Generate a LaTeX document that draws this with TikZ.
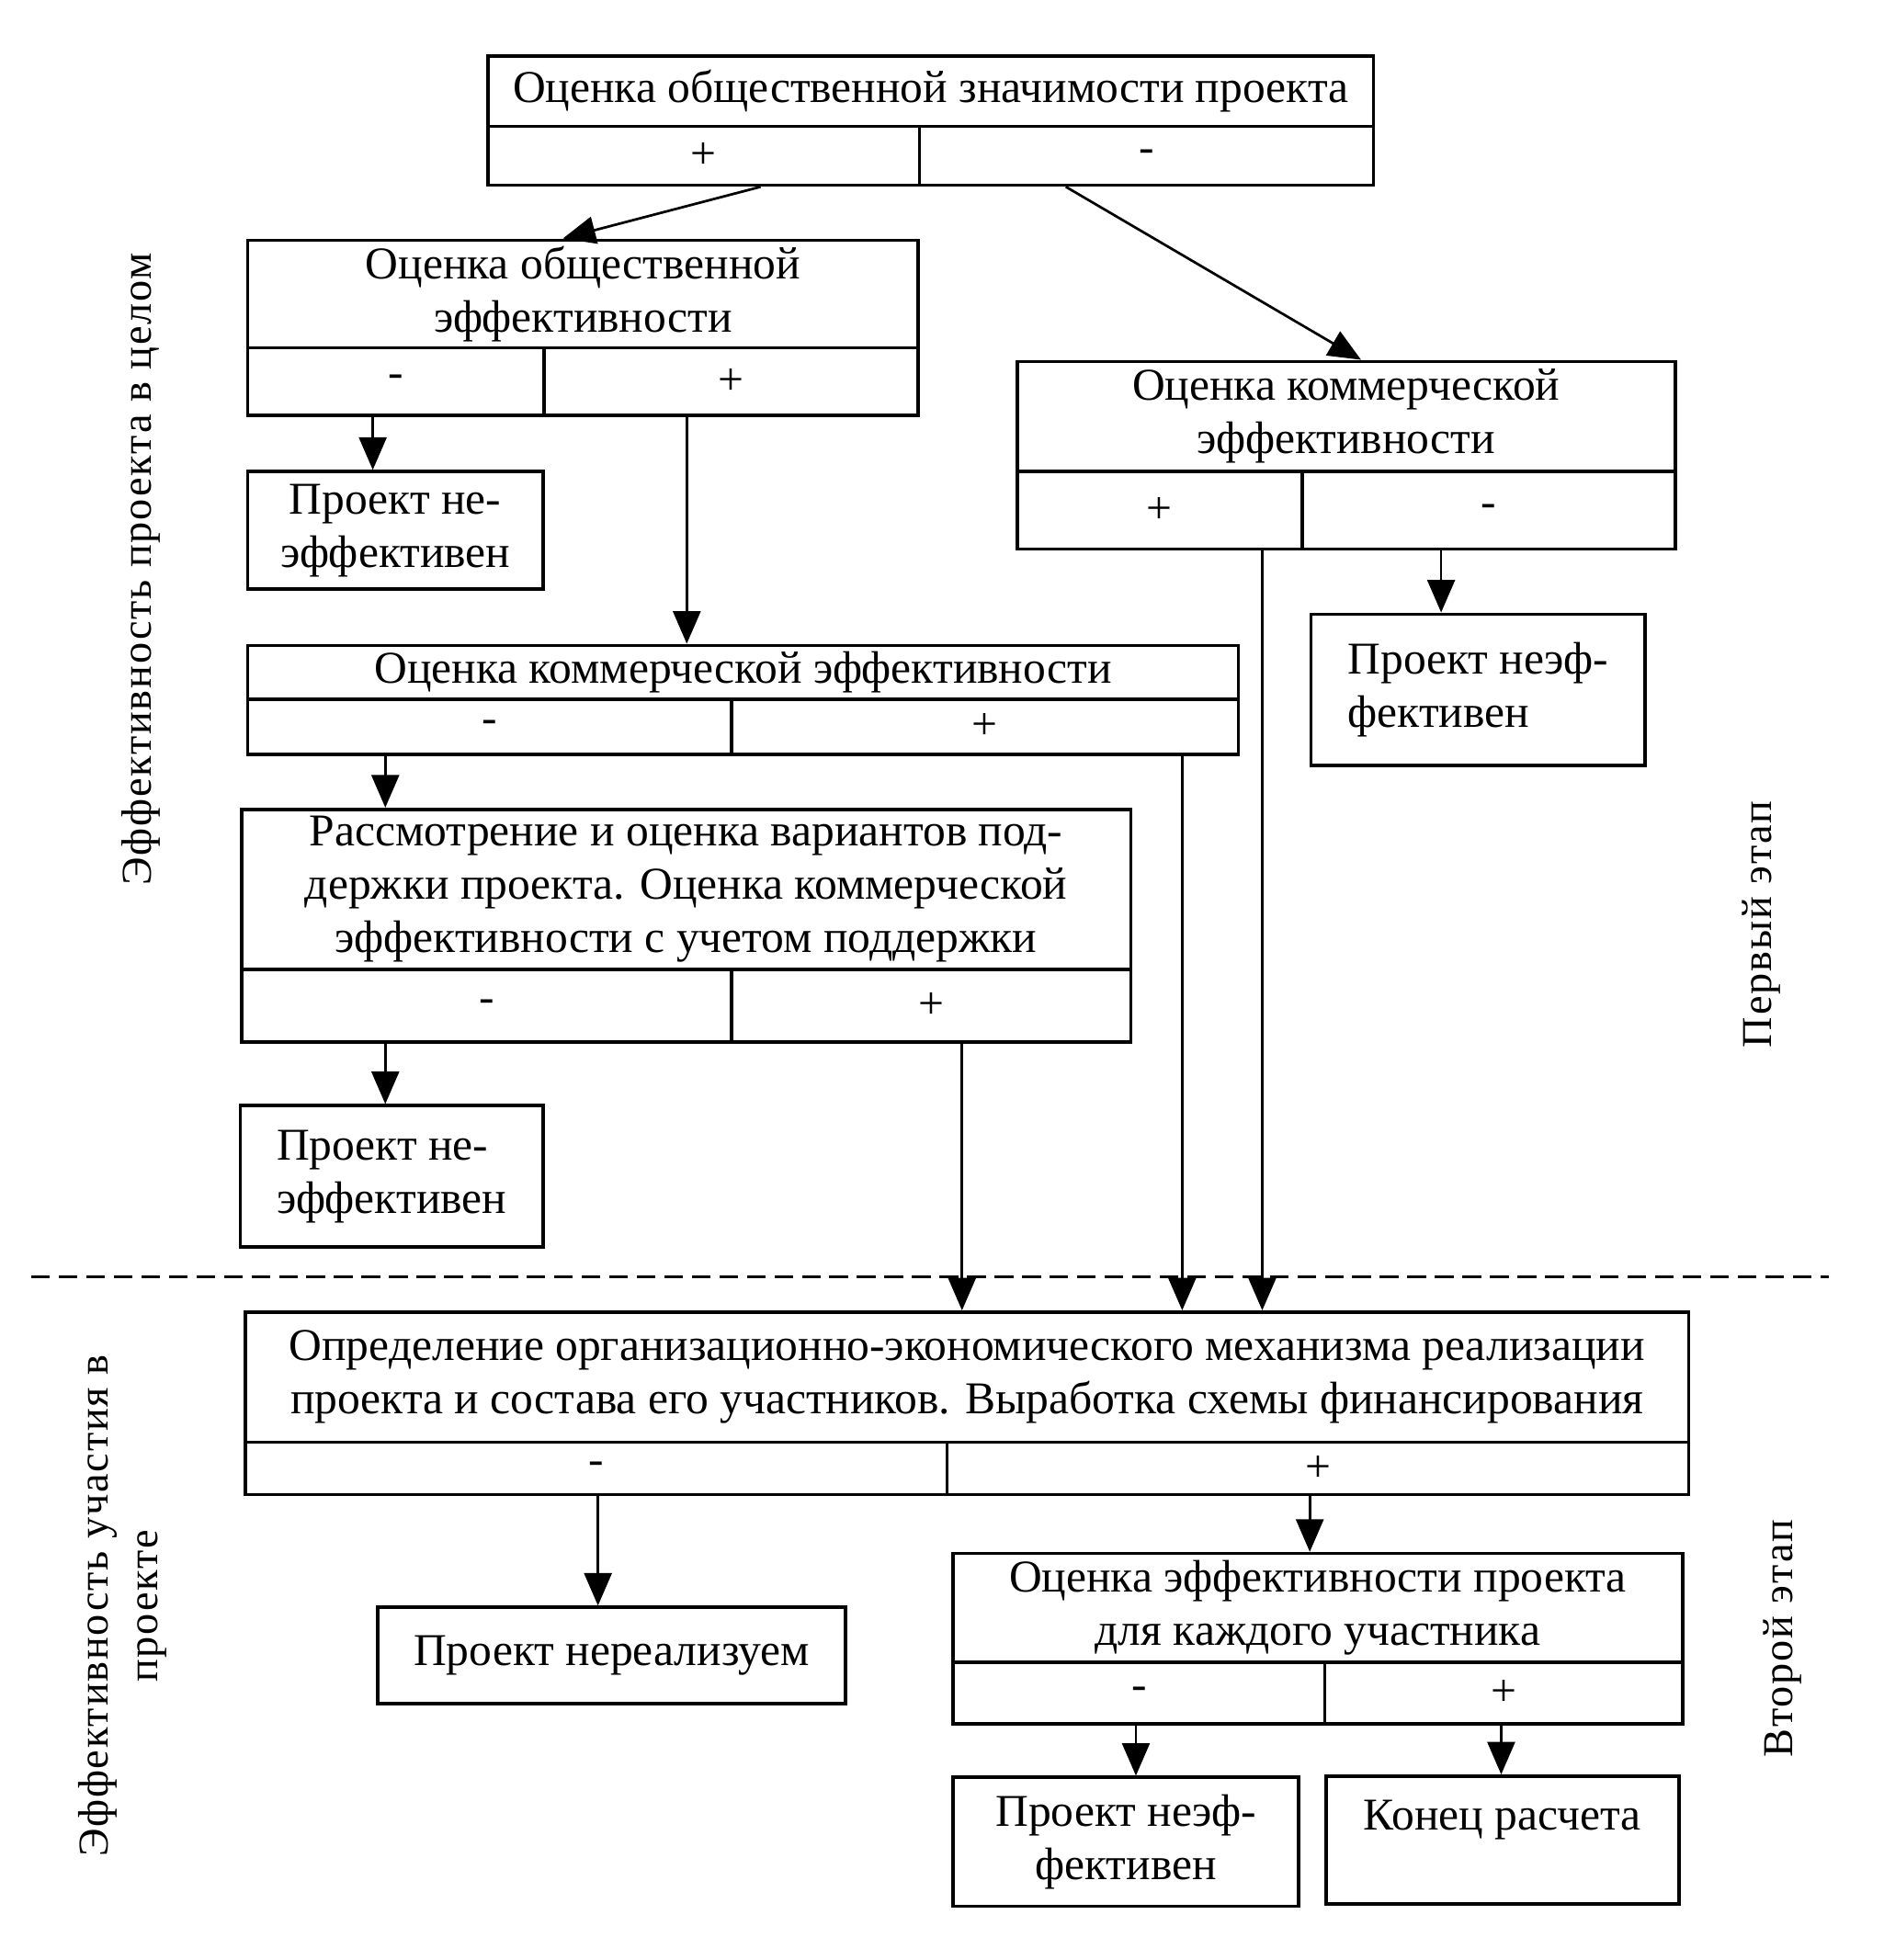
\documentclass[tikz,border=0pt]{standalone}
\usepackage{fontspec}
\setmainfont{Liberation Serif}
\newfontfamily\sidefont[LetterSpace=4]{Liberation Serif}
\usetikzlibrary{arrows.meta}
\begin{document}
\begin{tikzpicture}[x=0.5pt,y=-0.5pt,
  every node/.style={font=\fontsize{18.2pt}{21.3pt}\selectfont},
  bx/.style={draw, line width=1.35pt, inner sep=0pt, align=center},
  arr/.style={line width=1pt, -{Triangle[length=13pt,width=11pt]}},
  side/.style={rotate=90, align=center, font=\sidefont\fontsize{17pt}{20pt}\selectfont}]
\useasboundingbox (0,0) rectangle (1506,1567);
\newcommand\cell[6]{\node[bx, minimum width={(#4-#2)*0.5pt}, minimum height={(#5-#3)*0.5pt}] (#1) at ({(#2+#4)/2},{(#3+#5)/2}) {#6};}
% A
\cell{At}{390}{45}{1098}{101}{Оценка общественной значимости проекта}
\cell{Aplus}{390}{101}{735}{148}{+}
\cell{Aminus}{735}{101}{1098}{148}{-}
% B
\cell{Bt}{198}{192}{734}{278}{Оценка общественной\\эффективности}
\cell{Bminus}{198}{278}{435}{332}{-}
\cell{Bplus}{435}{278}{734}{332}{+}
% C
\cell{Ct}{813}{289}{1339}{377}{Оценка коммерческой\\эффективности}
\cell{Cplus}{813}{377}{1041}{439}{+}
\cell{Cminus}{1041}{377}{1339}{439}{-}
% D
\cell{D}{198}{377}{434}{471}{Проект не-\\эффективен}
% E
\node[bx, align=left, minimum width=133.5pt, minimum height=60.5pt] (E) at (1181.5,551.5) {Проект неэф-\\фективен};
% F
\cell{Ft}{198}{516}{990}{559}{Оценка коммерческой эффективности}
\cell{Fminus}{198}{559}{585}{603}{-}
\cell{Fplus}{585}{559}{990}{603}{+}
% G
\cell{Gt}{193}{647}{904}{775}{Рассмотрение и оценка вариантов под-\\держки проекта. Оценка коммерческой\\эффективности с учетом поддержки}
\cell{Gminus}{193}{775}{585}{833}{-}
\cell{Gplus}{585}{775}{904}{833}{+}
% H
\node[bx, align=left, minimum width=121pt, minimum height=56.5pt] (H) at (313,940.5) {Проект не-\\эффективен};
% dashed line
\coordinate (dl) at (25,1021);
\coordinate (dr) at (1462,1021);
\draw[line width=1.1pt, dash pattern=on 7.5pt off 3.5pt] (dl) -- (dr);
% I
\cell{It}{196}{1049}{1350}{1153}{Определение организационно-экономического механизма реализации\\проекта и состава его участников. Выработка схемы финансирования}
\cell{Iminus}{196}{1153}{757}{1195}{-}
\cell{Iplus}{757}{1153}{1350}{1195}{+}
% J
\cell{J}{302}{1285}{676}{1362}{Проект нереализуем}
% K
\cell{Kt}{762}{1242}{1345}{1329}{Оценка эффективности проекта\\для каждого участника}
\cell{Kminus}{762}{1329}{1059}{1378}{-}
\cell{Kplus}{1059}{1329}{1345}{1378}{+}
% L, M
\cell{L}{762}{1421}{1038}{1524}{Проект неэф-\\фективен}
\cell{M}{1060}{1420}{1342}{1522}{}
\node (Mt) at (1201,1455) {Конец расчета};
% side labels
\node[side] (s1) at (113,455) {Эффективность проекта в целом};
\node[side] (s2) at (1408,739) {Первый этап};
\node[side] (s3) at (98,1284) {Эффективность участия в\\проекте};
\node[side] (s4) at (1425,1310) {Второй этап};
% connectors
\draw[arr] ([xshift=22.75pt]Aplus.south) -- ([xshift=-8pt]Bt.north);
\draw[arr] ([xshift=-32.25pt]Aminus.south) -- ([xshift=6pt]Ct.north);
\draw[arr] ([xshift=-9.25pt]Bminus.south) -- ([xshift=-9.25pt]Bminus.south |- D.north);
\draw[arr] ([xshift=-17.75pt]Bplus.south) -- ([xshift=-17.75pt]Bplus.south |- Ft.north);
\draw[arr] ([xshift=-19pt]Cminus.south) -- ([xshift=-19pt]Cminus.south |- E.north);
\draw[arr] ([xshift=41pt]Cplus.south) -- ([xshift=41pt]Cplus.south |- It.north);
\draw[arr] ([xshift=78.75pt]Fplus.south) -- ([xshift=78.75pt]Fplus.south |- It.north);
\draw[arr] ([xshift=-41.75pt]Fminus.south) -- ([xshift=-41.75pt]Fminus.south |- Gt.north);
\draw[arr] ([xshift=12.25pt]Gplus.south) -- ([xshift=12.25pt]Gplus.south |- It.north);
\draw[arr] ([xshift=-40.5pt]Gminus.south) -- ([xshift=-40.5pt]Gminus.south |- H.north);
\draw[arr] ([xshift=0.75pt]Iminus.south) -- ([xshift=0.75pt]Iminus.south |- J.north);
\draw[arr] ([xshift=-3.25pt]Iplus.south) -- ([xshift=-3.25pt]Iplus.south |- Kt.north);
\draw[arr] ([xshift=-1.25pt]Kminus.south) -- ([xshift=-1.25pt]Kminus.south |- L.north);
\draw[arr] ([xshift=-1pt]Kplus.south) -- ([xshift=-1pt]Kplus.south |- M.north);
\end{tikzpicture}
\end{document}
